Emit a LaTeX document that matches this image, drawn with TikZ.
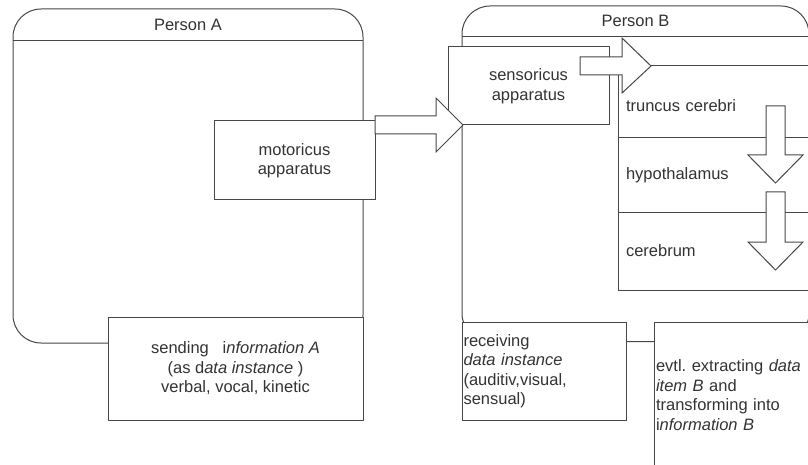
\documentclass[tikz,border=0pt]{standalone}
\usepackage{fontspec}
\setmainfont{Liberation Sans}
\definecolor{edge}{HTML}{474747}
\definecolor{ink}{HTML}{333333}

\begin{document}
\begin{tikzpicture}[x=1pt,y=-1pt,
  every node/.style={font=\fontsize{16.5}{19.5}\selectfont, text=ink},
  box/.style={draw=edge, fill=white, line width=1pt, rectangle, inner sep=0pt, outer sep=0pt},
  container/.style={box, rounded corners=28pt},
  rowbox/.style={box, minimum width=212pt, text width=196pt, inner xsep=8pt, align=left},
  divider/.style={draw=edge, line width=1pt},
  blockarrow/.style={draw=edge, fill=white, line width=1pt, line join=miter}
]
\useasboundingbox (0,0) rectangle (808,465);
\clip (0,0) rectangle (808,465);

% the two persons
\node[container, minimum width=350pt, minimum height=334pt] (pa) at (188,176) {};
\draw[divider] ([yshift=-32pt]pa.north west) -- ([yshift=-32pt]pa.north east);
\node (patitle) at ([yshift=-16pt]pa.north) {Person A};

\node[container, minimum width=347pt, minimum height=335.5pt] (pb) at (635.5,173.75) {};
\draw[divider] ([yshift=-31pt]pb.north west) -- ([yshift=-31pt]pb.north east);
\node (pbtitle) at ([yshift=-15pt]pb.north) {Person B};

% sender side
\node[box, minimum width=161pt, minimum height=79pt, align=center] (motor) at (294.5,160.5)
  {motoricus\\apparatus};
\node[box, minimum width=255pt, minimum height=103pt, align=center] (send) at (235.5,368.5)
  {sending\ \ \ i\textit{nformation A}\\(as d\textit{ata instance} )\\verbal, vocal, kinetic};

% brain layers of the receiver
\node[rowbox, minimum height=72pt] (truncus) at (724,102)
  {\raisebox{-4pt}[\height][\depth]{truncus cerebri}};
\node[rowbox, minimum height=74pt] (hypo) at (724,175) {hypothalamus};
\node[rowbox, minimum height=78pt] (cerebrum) at (724,251) {cerebrum};

% receiver side
\node[box, minimum width=161pt, minimum height=78pt, align=center] (sensor) at (528.5,86)
  {sensoricus\\apparatus};
\node[box, minimum width=164pt, minimum height=98pt, text width=161pt, inner xsep=1.5pt, align=left] (recv) at (544,371)
  {receiving\\\textit{data instance}\\(auditiv,visual,\\sensual)};
\node[box, minimum width=176pt, minimum height=146pt, text width=172pt, inner xsep=2pt, align=left] (evtl) at (742,395)
  {evtl.\ extracting \textit{data}\\\textit{item B} and\\transforming into\\i\textit{nformation B}};

% block arrows
\draw[blockarrow] (375,116) -- (436,116) -- (436,98) -- (463,125) -- (436,152) -- (436,134) -- (375,134) -- cycle;
\draw[blockarrow] (580,57) -- (622,57) -- (622,38) -- (651,66) -- (622,93) -- (622,75) -- (580,75) -- cycle;
\draw[blockarrow] (766,106) -- (785,106) -- (785,155) -- (803,155) -- (775.5,183) -- (748,155) -- (766,155) -- cycle;
\draw[blockarrow] (766,192) -- (785,192) -- (785,242) -- (803,242) -- (775.5,270) -- (748,242) -- (766,242) -- cycle;
\end{tikzpicture}
\end{document}
